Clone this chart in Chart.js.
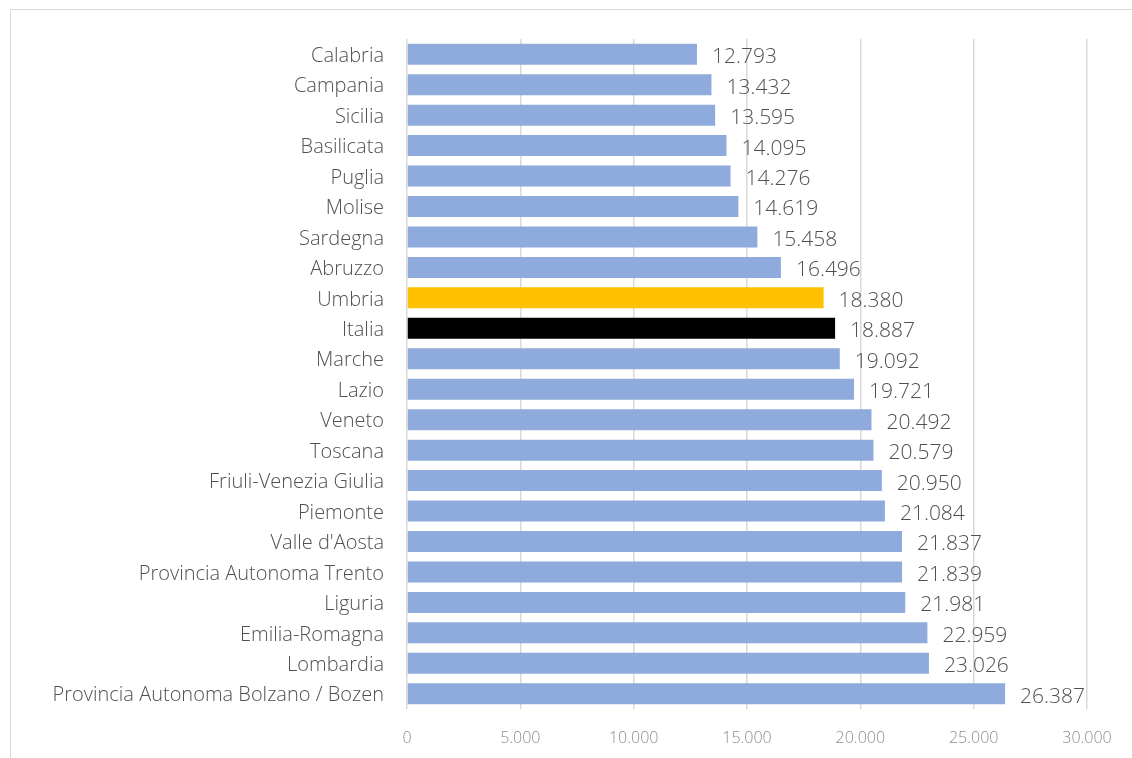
<!DOCTYPE html>
<html>
<head>
<meta charset="utf-8">
<script src="https://cdn.jsdelivr.net/npm/chart.js@4"></script>
<style>
  html, body { margin: 0; padding: 0; background: #fff; }
  #wrap { position: relative; width: 1132px; height: 758px; overflow: hidden; }
  #frame { position: absolute; left: 10px; top: 9px; width: 1200px; height: 800px; border: 1px solid #d9d9d9; box-sizing: border-box; }
  #chartBox { position: absolute; left: 0; top: 0; width: 1132px; height: 758px; }
</style>
</head>
<body>
<div id="wrap">
  <div id="frame"></div>
  <div id="chartBox"><canvas id="redditoChart"></canvas></div>
</div>
<script>
// regioni, dal valore più basso al più alto
const regioni = [
  'Calabria', 'Campania', 'Sicilia', 'Basilicata', 'Puglia', 'Molise',
  'Sardegna', 'Abruzzo', 'Umbria', 'Italia', 'Marche', 'Lazio', 'Veneto',
  'Toscana', 'Friuli-Venezia Giulia', 'Piemonte', "Valle d'Aosta",
  'Provincia Autonoma Trento', 'Liguria', 'Emilia-Romagna', 'Lombardia',
  'Provincia Autonoma Bolzano / Bozen'
];
const valori = [
  12793, 13432, 13595, 14095, 14276, 14619, 15458, 16496, 18380, 18887,
  19092, 19721, 20492, 20579, 20950, 21084, 21837, 21839, 21981, 22959,
  23026, 26387
];
const xTicks = [0, 5000, 10000, 15000, 20000, 25000, 30000];

const BLUE = '#8faadc';
const coloriBarre = regioni.map(r => r === 'Umbria' ? '#ffc000' : (r === 'Italia' ? '#000000' : BLUE));

// formato italiano: punto per le migliaia
const fmt = v => String(v).replace(/\B(?=(\d{3})+(?!\d))/g, '.');

const FONT = "'Open Sans', 'Noto Sans', sans-serif";

const valueLabels = {
  id: 'valueLabels',
  afterDatasetsDraw(chart) {
    const ctx = chart.ctx;
    const meta = chart.getDatasetMeta(0);
    ctx.save();
    ctx.font = '300 21px ' + FONT;
    ctx.fillStyle = '#505050';
    ctx.textAlign = 'left';
    ctx.textBaseline = 'middle';
    meta.data.forEach((bar, i) => {
      ctx.fillText(fmt(valori[i]), bar.x + 15, bar.y + 3);
    });
    ctx.restore();
  }
};

new Chart(document.getElementById('redditoChart'), {
  type: 'bar',
  data: {
    labels: regioni,
    datasets: [{
      data: valori,
      backgroundColor: coloriBarre,
      borderWidth: 0,
      barPercentage: 0.69,
      categoryPercentage: 1
    }]
  },
  options: {
    indexAxis: 'y',
    responsive: true,
    maintainAspectRatio: false,
    animation: false,
    layout: { padding: { top: 39, right: 45, bottom: 0, left: 0 } },
    plugins: {
      legend: { display: false },
      tooltip: { enabled: false }
    },
    scales: {
      x: {
        min: 0,
        max: 30000,
        afterBuildTicks: scale => { scale.ticks = xTicks.map(v => ({ value: v })); },
        afterFit: scale => { scale.height = 49; },
        border: { display: false },
        grid: { color: '#d9d9d9', lineWidth: 1.5, drawTicks: false },
        ticks: {
          color: '#8c8c8c',
          font: { family: FONT, size: 16, weight: '300' },
          padding: 20,
          maxRotation: 0,
          callback: v => fmt(v)
        }
      },
      y: {
        afterFit: scale => { scale.width = 407; },
        border: { display: false },
        grid: { display: false },
        ticks: {
          color: '#505050',
          font: { family: FONT, size: 20, weight: '300' },
          padding: 15,
          labelOffset: 2,
          autoSkip: false
        }
      }
    }
  },
  plugins: [valueLabels]
});
</script>
</body>
</html>
